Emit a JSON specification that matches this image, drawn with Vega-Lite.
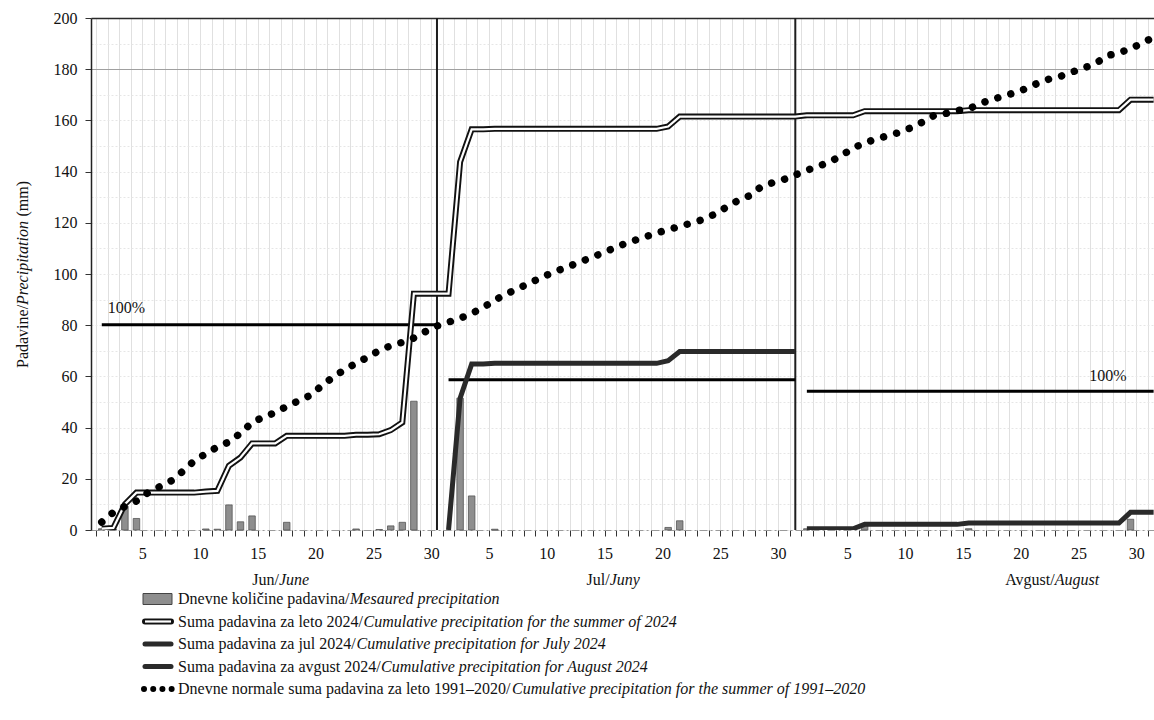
{
  "$schema": "https://vega.github.io/schema/vega-lite/v6.json",
  "background": "white",
  "padding": {"left": 14, "top": 10, "right": 0, "bottom": 0},
  "bounds": "flush",
  "spacing": 57.75,
  "config": {
    "font": "Liberation Serif",
    "view": {"stroke": null},
    "axis": {"labelFont": "Liberation Serif", "titleFont": "Liberation Serif", "labelFontSize": 16, "titleFontSize": 16, "labelColor": "#111", "titleColor": "#111", "titleFontWeight": "normal"},
    "text": {"font": "Liberation Serif", "fontSize": 16, "color": "#111"}
  },
  "datasets": {
    "days": [
      {"d":1,"p":0.5,"cs":0.5,"n":3.1},
      {"d":2,"p":0.3,"cs":0.8,"n":6.9},
      {"d":3,"p":9.3,"cs":10.1,"n":9.2},
      {"d":4,"p":4.5,"cs":14.6,"n":11.3},
      {"d":5,"p":0,"cs":14.6,"n":14.6},
      {"d":6,"p":0,"cs":14.6,"n":16.9},
      {"d":7,"p":0,"cs":14.6,"n":19.2},
      {"d":8,"p":0,"cs":14.6,"n":22.9},
      {"d":9,"p":0,"cs":14.6,"n":27.0},
      {"d":10,"p":0.4,"cs":15.0,"n":29.8},
      {"d":11,"p":0.3,"cs":15.3,"n":32.4},
      {"d":12,"p":9.8,"cs":25.1,"n":34.4},
      {"d":13,"p":3.2,"cs":28.3,"n":37.8},
      {"d":14,"p":5.5,"cs":33.8,"n":41.9},
      {"d":15,"p":0,"cs":33.8,"n":44.2},
      {"d":16,"p":0,"cs":33.8,"n":45.8},
      {"d":17,"p":3.0,"cs":36.8,"n":48.3},
      {"d":18,"p":0,"cs":36.8,"n":50.4},
      {"d":19,"p":0,"cs":36.8,"n":52.5},
      {"d":20,"p":0,"cs":36.8,"n":56.2},
      {"d":21,"p":0,"cs":36.8,"n":59.7},
      {"d":22,"p":0,"cs":36.8,"n":62.6},
      {"d":23,"p":0.4,"cs":37.2,"n":65.1},
      {"d":24,"p":0,"cs":37.2,"n":67.5},
      {"d":25,"p":0.2,"cs":37.4,"n":70.1},
      {"d":26,"p":1.6,"cs":39.0,"n":72.0},
      {"d":27,"p":3.0,"cs":42.0,"n":73.3},
      {"d":28,"p":50.3,"cs":92.3,"n":75.0},
      {"d":29,"p":0,"cs":92.3,"n":77.5},
      {"d":30,"p":0,"cs":92.3,"n":79.7},
      {"d":31,"p":0,"cs":92.3,"cj":0,"n":81.2},
      {"d":32,"p":51.5,"cs":143.8,"cj":51.5,"n":82.7},
      {"d":33,"p":13.3,"cs":156.5,"cj":64.8,"n":84.6},
      {"d":34,"p":0,"cs":156.5,"cj":64.8,"n":86.9},
      {"d":35,"p":0.3,"cs":156.7,"cj":65.1,"n":89.8},
      {"d":36,"p":0,"cs":156.7,"cj":65.1,"n":92.2},
      {"d":37,"p":0,"cs":156.7,"cj":65.1,"n":94.3},
      {"d":38,"p":0,"cs":156.7,"cj":65.1,"n":96.4},
      {"d":39,"p":0,"cs":156.7,"cj":65.1,"n":98.6},
      {"d":40,"p":0,"cs":156.7,"cj":65.1,"n":100.5},
      {"d":41,"p":0,"cs":156.7,"cj":65.1,"n":102.3},
      {"d":42,"p":0,"cs":156.7,"cj":65.1,"n":104.0},
      {"d":43,"p":0,"cs":156.7,"cj":65.1,"n":105.8},
      {"d":44,"p":0,"cs":156.7,"cj":65.1,"n":107.6},
      {"d":45,"p":0,"cs":156.7,"cj":65.1,"n":109.5},
      {"d":46,"p":0,"cs":156.7,"cj":65.1,"n":111.4},
      {"d":47,"p":0,"cs":156.7,"cj":65.1,"n":113.0},
      {"d":48,"p":0,"cs":156.7,"cj":65.1,"n":114.5},
      {"d":49,"p":0,"cs":156.7,"cj":65.1,"n":116.0},
      {"d":50,"p":1.0,"cs":157.6,"cj":66.1,"n":117.3},
      {"d":51,"p":3.6,"cs":161.5,"cj":69.7,"n":118.6},
      {"d":52,"p":0,"cs":161.5,"cj":69.7,"n":119.9},
      {"d":53,"p":0,"cs":161.5,"cj":69.7,"n":121.3},
      {"d":54,"p":0,"cs":161.5,"cj":69.7,"n":123.3},
      {"d":55,"p":0,"cs":161.5,"cj":69.7,"n":126.0},
      {"d":56,"p":0,"cs":161.5,"cj":69.7,"n":128.6},
      {"d":57,"p":0,"cs":161.5,"cj":69.7,"n":130.5},
      {"d":58,"p":0,"cs":161.5,"cj":69.7,"n":133.9},
      {"d":59,"p":0,"cs":161.5,"cj":69.7,"n":135.6},
      {"d":60,"p":0,"cs":161.5,"cj":69.7,"n":136.9},
      {"d":61,"p":0,"cs":161.5,"cj":69.7,"n":138.7},
      {"d":62,"p":0.5,"cs":162.0,"ca":0.5,"n":140.5},
      {"d":63,"p":0,"cs":162.0,"ca":0.5,"n":142.1},
      {"d":64,"p":0,"cs":162.0,"ca":0.5,"n":143.8},
      {"d":65,"p":0,"cs":162.0,"ca":0.5,"n":146.3},
      {"d":66,"p":0,"cs":162.0,"ca":0.5,"n":149.2},
      {"d":67,"p":1.7,"cs":163.6,"ca":2.2,"n":151.2},
      {"d":68,"p":0,"cs":163.6,"ca":2.2,"n":152.7},
      {"d":69,"p":0,"cs":163.6,"ca":2.2,"n":154.0},
      {"d":70,"p":0,"cs":163.6,"ca":2.2,"n":155.3},
      {"d":71,"p":0,"cs":163.6,"ca":2.2,"n":157.1},
      {"d":72,"p":0,"cs":163.6,"ca":2.2,"n":159.3},
      {"d":73,"p":0,"cs":163.6,"ca":2.2,"n":161.9},
      {"d":74,"p":0,"cs":163.6,"ca":2.2,"n":162.7},
      {"d":75,"p":0,"cs":163.6,"ca":2.2,"n":163.8},
      {"d":76,"p":0.5,"cs":164.0,"ca":2.7,"n":164.5},
      {"d":77,"p":0,"cs":164.0,"ca":2.7,"n":166.6},
      {"d":78,"p":0,"cs":164.0,"ca":2.7,"n":168.1},
      {"d":79,"p":0,"cs":164.0,"ca":2.7,"n":169.5},
      {"d":80,"p":0,"cs":164.0,"ca":2.7,"n":170.8},
      {"d":81,"p":0,"cs":164.0,"ca":2.7,"n":172.5},
      {"d":82,"p":0,"cs":164.0,"ca":2.7,"n":174.6},
      {"d":83,"p":0,"cs":164.0,"ca":2.7,"n":176.2},
      {"d":84,"p":0,"cs":164.0,"ca":2.7,"n":177.3},
      {"d":85,"p":0,"cs":164.0,"ca":2.7,"n":179.0},
      {"d":86,"p":0,"cs":164.0,"ca":2.7,"n":180.5},
      {"d":87,"p":0,"cs":164.0,"ca":2.7,"n":182.3},
      {"d":88,"p":0,"cs":164.0,"ca":2.7,"n":185.3},
      {"d":89,"p":0,"cs":164.0,"ca":2.7,"n":186.4},
      {"d":90,"p":4.2,"cs":168.1,"ca":6.9,"n":188.0},
      {"d":91,"p":0,"cs":168.1,"ca":6.9,"n":190.2},
      {"d":92,"p":0,"cs":168.1,"ca":6.9,"n":192.5}
    ],
    "months": [
      {"month":"Jun","start":1,"end":30,"total":80.2},
      {"month":"Jul","start":31,"end":61,"total":58.7},
      {"month":"Avg","start":62,"end":92,"total":54.2}
    ],
    "legend": [
      {"k":1,"reg":"Dnevne količine padavina/","it":"Mesaured precipitation"},
      {"k":2,"reg":"Suma padavina za leto 2024/","it":"Cumulative precipitation for the summer of 2024"},
      {"k":3,"reg":"Suma padavina za jul 2024/","it":"Cumulative precipitation for July 2024"},
      {"k":4,"reg":"Suma padavina za avgust 2024/","it":"Cumulative precipitation for August 2024"},
      {"k":5,"reg":"Dnevne normale suma padavina za leto 1991–2020/","it":"Cumulative precipitation for the summer of 1991–2020"}
    ]
  },
  "vconcat": [
    {
      "width": 1063,
      "height": 512,
      "data": {"name": "days"},
      "resolve": {"axis": {"x": "independent", "y": "independent"}},
      "layer": [
        {
          "transform": [{"filter": "datum.p > 0"}],
          "mark": {"type": "bar", "orient": "vertical", "width": 6.5, "fill": "#8e8e8e", "stroke": "#555555", "strokeWidth": 0.8},
          "encoding": {
            "x": {"field": "d", "type": "quantitative", "scale": {"domain": [0.5, 91.6], "nice": false, "zero": false},
              "axis": {
                "orient": "bottom", "title": null,
                "values": [0.5,1.5,2.5,3.5,4.5,5.5,6.5,7.5,8.5,9.5,10.5,11.5,12.5,13.5,14.5,15.5,16.5,17.5,18.5,19.5,20.5,21.5,22.5,23.5,24.5,25.5,26.5,27.5,28.5,29.5,30.5,31.5,32.5,33.5,34.5,35.5,36.5,37.5,38.5,39.5,40.5,41.5,42.5,43.5,44.5,45.5,46.5,47.5,48.5,49.5,50.5,51.5,52.5,53.5,54.5,55.5,56.5,57.5,58.5,59.5,60.5,61.5,62.5,63.5,64.5,65.5,66.5,67.5,68.5,69.5,70.5,71.5,72.5,73.5,74.5,75.5,76.5,77.5,78.5,79.5,80.5,81.5,82.5,83.5,84.5,85.5,86.5,87.5,88.5,89.5,90.5,91.5],
                "labelExpr": "(datum.value + 0.5 <= 30 ? datum.value + 0.5 : (datum.value + 0.5 <= 61 ? datum.value - 29.5 : datum.value - 60.5)) % 5 == 0 ? format(datum.value + 0.5 <= 30 ? datum.value + 0.5 : (datum.value + 0.5 <= 61 ? datum.value - 29.5 : datum.value - 60.5), 'd') : ''",
                "labelOverlap": false, "labelFlush": false, "labelBound": false,
                "labelPadding": 9,
                "tickSize": 6, "tickColor": "#333333", "tickWidth": 1,
                "domainColor": "#9a9a9a", "domainDash": [8, 3, 2, 3], "domainWidth": 1,
                "grid": true, "gridColor": "#e0e0e0", "gridWidth": 1
              }
            },
            "y": {"field": "p", "type": "quantitative", "scale": {"domain": [0, 200], "nice": false},
              "axis": {
                "orient": "left",
                "values": [0,10,20,30,40,50,60,70,80,90,100,110,120,130,140,150,160,170,180,190,200],
                "labelExpr": "datum.value % 20 == 0 ? datum.label : ''",
                "labelOverlap": false,
                "labelPadding": 8,
                "tickSize": 6, "tickColor": "#333333",
                "tickOpacity": {"condition": {"test": "datum.value % 20 != 0", "value": 0}, "value": 1},
                "domainColor": "#222222", "domainWidth": 1.5,
                "grid": true,
                "gridColor": {"condition": [{"test": "datum.value == 200", "value": "#2a2a2a"}, {"test": "datum.value == 180", "value": "#a0a0a0"}], "value": "#e6e6e6"},
                "gridDash": {"condition": {"test": "datum.value >= 180 && datum.value != 190", "value": []}, "value": [2, 2]},
                "gridWidth": {"condition": {"test": "datum.value == 200", "value": 1.5}, "value": 1},
                "title": "Padavine/", "titleAngle": -90, "titleAlign": "left", "titleBaseline": "middle", "titleX": -69, "titleY": 349.5
              }
            }
          }
        },
        {
          "data": {"name": "months"},
          "transform": [{"filter": "datum.end < 90"}],
          "mark": {"type": "rule", "color": "#1e1e1e", "strokeWidth": 2},
          "encoding": {
            "x": {"field": "end", "type": "quantitative", "scale": {"domain": [0.5, 91.6], "nice": false, "zero": false}, "axis": null}
          }
        },
        {
          "data": {"name": "months"},
          "mark": {"type": "rule", "color": "#000000", "strokeWidth": 3, "clip": true},
          "encoding": {
            "x": {"field": "start", "type": "quantitative", "scale": {"domain": [0.5, 91.6], "nice": false, "zero": false}, "axis": null},
            "x2": {"field": "end"},
            "y": {"field": "total", "type": "quantitative", "scale": {"domain": [0, 200], "nice": false}, "axis": null}
          }
        },
        {
          "mark": {"type": "line", "color": "#2a2a2a", "strokeWidth": 5, "clip": true},
          "encoding": {
            "x": {"field": "d", "type": "quantitative", "scale": {"domain": [0.5, 91.6], "nice": false, "zero": false}, "axis": null},
            "y": {"field": "cj", "type": "quantitative", "scale": {"domain": [0, 200], "nice": false}, "axis": null}
          }
        },
        {
          "mark": {"type": "line", "color": "#2a2a2a", "strokeWidth": 5, "clip": true},
          "encoding": {
            "x": {"field": "d", "type": "quantitative", "scale": {"domain": [0.5, 91.6], "nice": false, "zero": false}, "axis": null},
            "y": {"field": "ca", "type": "quantitative", "scale": {"domain": [0, 200], "nice": false}, "axis": null}
          }
        },
        {
          "mark": {"type": "line", "color": "#111111", "strokeWidth": 6, "clip": true},
          "encoding": {
            "x": {"field": "d", "type": "quantitative", "scale": {"domain": [0.5, 91.6], "nice": false, "zero": false},
              "axis": {"orient": "bottom", "title": null, "values": [16.28, 44.9, 83.4],
                "labelExpr": "datum.value < 30 ? 'Jun/' : (datum.value < 61 ? 'Jul/' : 'Avgust/')",
                "labelAlign": "right", "labelBaseline": "top", "labelPadding": 41,
                "ticks": false, "tickSize": 0, "domain": false, "grid": false,
                "labelOverlap": false, "labelFlush": false, "labelBound": false}
            },
            "y": {"field": "cs", "type": "quantitative", "scale": {"domain": [0, 200], "nice": false},
              "axis": {"orient": "left", "labels": false, "ticks": false, "domain": false, "grid": false,
                "title": "Precipitation", "titleFontStyle": "italic", "titleAngle": -90, "titleAlign": "left", "titleBaseline": "middle", "titleX": -69, "titleY": 286.4}
            }
          }
        },
        {
          "mark": {"type": "line", "color": "#ffffff", "strokeWidth": 2.2, "clip": true},
          "encoding": {
            "x": {"field": "d", "type": "quantitative", "scale": {"domain": [0.5, 91.6], "nice": false, "zero": false},
              "axis": {"orient": "bottom", "title": null, "values": [16.28, 44.9, 83.4],
                "labelExpr": "datum.value < 30 ? 'June' : (datum.value < 61 ? 'Juny' : 'August')",
                "labelAlign": "left", "labelBaseline": "top", "labelPadding": 41, "labelFontStyle": "italic",
                "ticks": false, "tickSize": 0, "domain": false, "grid": false,
                "labelOverlap": false, "labelFlush": false, "labelBound": false}
            },
            "y": {"field": "cs", "type": "quantitative", "scale": {"domain": [0, 200], "nice": false},
              "axis": {"orient": "left", "labels": false, "ticks": false, "domain": false, "grid": false,
                "title": "(mm)", "titleAngle": -90, "titleAlign": "left", "titleBaseline": "middle", "titleX": -69, "titleY": 198}
            }
          }
        },
        {
          "mark": {"type": "line", "color": "#000000", "strokeWidth": 7.5, "strokeCap": "round", "strokeDash": [0.01, 13.5], "clip": true},
          "encoding": {
            "x": {"field": "d", "type": "quantitative", "scale": {"domain": [0.5, 91.6], "nice": false, "zero": false}, "axis": null},
            "y": {"field": "n", "type": "quantitative", "scale": {"domain": [0, 200], "nice": false}, "axis": null}
          }
        },
        {
          "data": {"name": "months"},
          "transform": [{"filter": "datum.month == 'Jun'"}],
          "mark": {"type": "text", "text": "100%", "align": "left", "baseline": "middle", "dx": 6, "dy": -17, "fontSize": 16},
          "encoding": {
            "x": {"field": "start", "type": "quantitative", "scale": {"domain": [0.5, 91.6], "nice": false, "zero": false}, "axis": null},
            "y": {"field": "total", "type": "quantitative", "scale": {"domain": [0, 200], "nice": false}, "axis": null}
          }
        },
        {
          "data": {"name": "months"},
          "transform": [{"filter": "datum.month == 'Avg'"}],
          "mark": {"type": "text", "text": "100%", "align": "right", "baseline": "middle", "dx": -27, "dy": -15, "fontSize": 16},
          "encoding": {
            "x": {"field": "end", "type": "quantitative", "scale": {"domain": [0.5, 91.6], "nice": false, "zero": false}, "axis": null},
            "y": {"field": "total", "type": "quantitative", "scale": {"domain": [0, 200], "nice": false}, "axis": null}
          }
        }
      ]
    },
    {
      "width": 1063,
      "height": 112.5,
      "data": {"name": "legend"},
      "encoding": {
        "y": {"field": "k", "type": "ordinal", "scale": {"type": "point", "padding": 0.5}, "axis": null}
      },
      "layer": [
        {
          "transform": [{"filter": "datum.k == 1"}],
          "mark": {"type": "bar", "orient": "horizontal", "height": 11, "fill": "#8e8e8e", "stroke": "#444444", "strokeWidth": 1},
          "encoding": {"x": {"value": 52}, "x2": {"value": 81}}
        },
        {
          "transform": [{"filter": "datum.k == 2"}],
          "mark": {"type": "rule", "color": "#111111", "strokeWidth": 6, "strokeCap": "round"},
          "encoding": {"x": {"value": 54}, "x2": {"value": 80}}
        },
        {
          "transform": [{"filter": "datum.k == 2"}],
          "mark": {"type": "rule", "color": "#ffffff", "strokeWidth": 2.2},
          "encoding": {"x": {"value": 54}, "x2": {"value": 80}}
        },
        {
          "transform": [{"filter": "datum.k == 3 || datum.k == 4"}],
          "mark": {"type": "rule", "color": "#2a2a2a", "strokeWidth": 5, "strokeCap": "round"},
          "encoding": {"x": {"value": 54}, "x2": {"value": 80}}
        },
        {
          "transform": [{"filter": "datum.k == 5"}],
          "mark": {"type": "rule", "color": "#000000", "strokeWidth": 6, "strokeCap": "round", "strokeDash": [0.01, 9.2]},
          "encoding": {"x": {"value": 53}, "x2": {"value": 82}}
        },
        {
          "mark": {"type": "text", "align": "left", "baseline": "middle", "fontSize": 16},
          "encoding": {"x": {"value": 87}, "text": {"field": "reg"}}
        },
        {
          "transform": [{"filter": "datum.k == 1"}],
          "mark": {"type": "text", "align": "left", "baseline": "middle", "fontSize": 16, "fontStyle": "italic"},
          "encoding": {"x": {"value": 259}, "text": {"field": "it"}}
        },
        {
          "transform": [{"filter": "datum.k == 2"}],
          "mark": {"type": "text", "align": "left", "baseline": "middle", "fontSize": 16, "fontStyle": "italic"},
          "encoding": {"x": {"value": 272.5}, "text": {"field": "it"}}
        },
        {
          "transform": [{"filter": "datum.k == 3"}],
          "mark": {"type": "text", "align": "left", "baseline": "middle", "fontSize": 16, "fontStyle": "italic"},
          "encoding": {"x": {"value": 265.5}, "text": {"field": "it"}}
        },
        {
          "transform": [{"filter": "datum.k == 4"}],
          "mark": {"type": "text", "align": "left", "baseline": "middle", "fontSize": 16, "fontStyle": "italic"},
          "encoding": {"x": {"value": 290}, "text": {"field": "it"}}
        },
        {
          "transform": [{"filter": "datum.k == 5"}],
          "mark": {"type": "text", "align": "left", "baseline": "middle", "fontSize": 16, "fontStyle": "italic"},
          "encoding": {"x": {"value": 421}, "text": {"field": "it"}}
        }
      ]
    }
  ]
}
